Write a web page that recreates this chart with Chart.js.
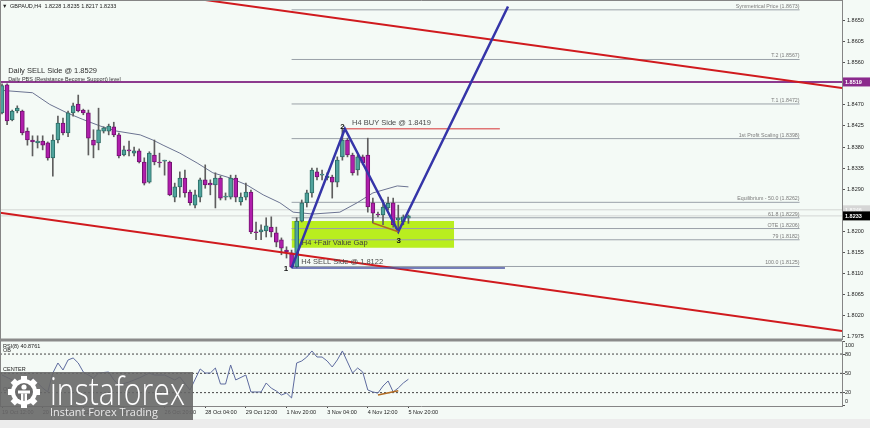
<!DOCTYPE html>
<html>
<head>
<meta charset="utf-8">
<script src="https://cdn.jsdelivr.net/npm/chart.js@4.4.0/dist/chart.umd.min.js"></script>
<style>
html, body { margin: 0; padding: 0; background: #f4faf6; }
#wrap { position: relative; width: 870px; height: 428px; overflow: hidden; background: #f4faf6; }
#strip { position: absolute; left: 0; top: 419px; width: 870px; height: 9px; background: #ececec; }
#price-chart { position: absolute; left: 0; top: 0; }
#rsi-chart { position: absolute; left: 0; top: 334px; }
</style>
</head>
<body>
<div id="wrap">
	<div id="strip"></div>
	<canvas id="price-chart" width="870" height="340"></canvas>
	<canvas id="rsi-chart" width="870" height="94"></canvas>
</div>
<script>
// ---- data ----
const symbolName = 'GBPAUD,H4';

const candleOpen = [1.8453, 1.8513, 1.8438, 1.8457, 1.8457, 1.8414, 1.8395, 1.8389, 1.8393, 1.8389,
	1.8357, 1.8395, 1.8431, 1.8410, 1.8453, 1.8472, 1.8459, 1.8453, 1.8395, 1.8389,
	1.8414, 1.8414, 1.8423, 1.8406, 1.8363, 1.8374, 1.8367, 1.8372, 1.8348, 1.8305,
	1.8363, 1.8348, 1.8350, 1.8348, 1.8273, 1.8295, 1.8314, 1.8284, 1.8256, 1.8273,
	1.8310, 1.8303, 1.8299, 1.8314, 1.8273, 1.8273, 1.8314, 1.8263, 1.8273, 1.8284,
	1.8199, 1.8199, 1.8201, 1.8209, 1.8197, 1.8182, 1.8160, 1.8154, 1.8124, 1.8222,
	1.8261, 1.8282, 1.8327, 1.8320, 1.8314, 1.8316, 1.8305, 1.8359, 1.8395, 1.8363,
	1.8331, 1.8359, 1.8363, 1.8261, 1.8237, 1.8235, 1.8250, 1.8261, 1.8224, 1.8220,
	1.8228];
const candleHigh = [1.8515, 1.8515, 1.8459, 1.8468, 1.8459, 1.8421, 1.8404, 1.8404, 1.8404, 1.8391,
	1.8406, 1.8446, 1.8442, 1.8457, 1.8474, 1.8491, 1.8461, 1.8459, 1.8417, 1.8463,
	1.8423, 1.8429, 1.8433, 1.8410, 1.8382, 1.8393, 1.8380, 1.8376, 1.8357, 1.8370,
	1.8395, 1.8367, 1.8352, 1.8350, 1.8303, 1.8327, 1.8331, 1.8288, 1.8288, 1.8314,
	1.8342, 1.8310, 1.8325, 1.8318, 1.8282, 1.8320, 1.8320, 1.8282, 1.8303, 1.8288,
	1.8220, 1.8214, 1.8229, 1.8231, 1.8209, 1.8186, 1.8167, 1.8160, 1.8229, 1.8267,
	1.8288, 1.8335, 1.8335, 1.8331, 1.8325, 1.8320, 1.8359, 1.8419, 1.8399, 1.8367,
	1.8363, 1.8363, 1.8399, 1.8271, 1.8241, 1.8267, 1.8273, 1.8271, 1.8256, 1.8235,
	1.8235];
const candleLow = [1.8451, 1.8428, 1.8436, 1.8453, 1.8406, 1.8384, 1.8361, 1.8378, 1.8374, 1.8352,
	1.8318, 1.8389, 1.8406, 1.8402, 1.8446, 1.8455, 1.8449, 1.8363, 1.8357, 1.8374,
	1.8410, 1.8406, 1.8402, 1.8357, 1.8361, 1.8361, 1.8361, 1.8346, 1.8299, 1.8303,
	1.8342, 1.8337, 1.8320, 1.8276, 1.8263, 1.8273, 1.8273, 1.8256, 1.8250, 1.8263,
	1.8292, 1.8278, 1.8250, 1.8267, 1.8267, 1.8269, 1.8263, 1.8256, 1.8267, 1.8195,
	1.8182, 1.8182, 1.8188, 1.8188, 1.8167, 1.8150, 1.8143, 1.8122, 1.8122, 1.8220,
	1.8252, 1.8273, 1.8310, 1.8310, 1.8310, 1.8271, 1.8295, 1.8352, 1.8359, 1.8320,
	1.8320, 1.8342, 1.8241, 1.8218, 1.8231, 1.8214, 1.8246, 1.8209, 1.8199, 1.8214,
	1.8217];
const candleClose = [1.8511, 1.8436, 1.8457, 1.8463, 1.8410, 1.8395, 1.8391, 1.8393, 1.8384, 1.8357,
	1.8395, 1.8431, 1.8410, 1.8453, 1.8468, 1.8457, 1.8453, 1.8399, 1.8384, 1.8417,
	1.8421, 1.8425, 1.8406, 1.8361, 1.8374, 1.8372, 1.8372, 1.8348, 1.8303, 1.8367,
	1.8348, 1.8346, 1.8350, 1.8278, 1.8295, 1.8314, 1.8282, 1.8261, 1.8278, 1.8310,
	1.8299, 1.8299, 1.8314, 1.8271, 1.8275, 1.8314, 1.8273, 1.8273, 1.8284, 1.8199,
	1.8197, 1.8203, 1.8212, 1.8199, 1.8177, 1.8164, 1.8156, 1.8124, 1.8222, 1.8261,
	1.8282, 1.8331, 1.8316, 1.8322, 1.8318, 1.8305, 1.8352, 1.8395, 1.8363, 1.8325,
	1.8359, 1.8346, 1.8252, 1.8239, 1.8235, 1.8252, 1.8260, 1.8214, 1.8229, 1.8231,
	1.8233];

const maIdx = [0, 6, 9.4, 12.8, 15.9, 19.3, 22.6, 27.2, 29.7, 31.7, 35, 38.4, 41.5, 44.9, 48.2, 51.4, 54.7, 57.3, 61.2, 66.5, 69.9, 73, 77.8, 80];
const maVal = [1.8501, 1.8496, 1.8471, 1.8453, 1.8439, 1.8425, 1.8414, 1.8406, 1.8395, 1.8384, 1.8367, 1.8346, 1.8325, 1.8314, 1.8299, 1.8278, 1.8261, 1.8241, 1.8237, 1.8241, 1.8261, 1.8282, 1.8297, 1.8295];

const rsiIdx = [0, 2, 4, 6, 8, 9, 10, 11, 12, 13, 14, 15, 16, 18, 19, 21, 22, 23, 25, 26, 27, 29, 30, 32, 34, 35, 37, 39, 40, 41, 42, 43, 44, 45, 46, 48, 49, 51, 52, 53, 54, 55, 56, 57, 58, 59, 60, 61, 62, 63, 64, 65, 66, 67, 68, 69, 70, 71, 72, 73, 74, 75, 76, 77, 78, 79, 80];
const rsiVal = [47.4, 39.7, 31.9, 42.8, 27.2, 21.0, 50.5, 66.1, 55.2, 70.8, 73.9, 66.1, 52.1, 42.8, 50.5, 52.1, 39.7, 31.9, 36.5, 39.7, 42.8, 50.5, 47.4, 47.4, 39.7, 44.3, 24.1, 56.8, 50.5, 50.5, 58.3, 33.4, 33.4, 63.0, 39.7, 47.4, 21.0, 21.0, 35.0, 27.0, 22.5, 16.3, 19.4, 11.7, 66.1, 69.2, 75.4, 84.8, 75.4, 75.4, 69.2, 59.9, 70.8, 84.8, 67.7, 50.5, 58.3, 52.1, 24.1, 21.0, 19.4, 30.3, 38.1, 21.0, 27.2, 35.0, 40.9];
const rsiCaption = 'RSI(8) 40.8761';
const rsiLevels = [80, 50, 20];
const rsiLevelNames = ['OB', 'CENTER', 'OS'];
const rsiTicks = [0, 20, 50, 80, 100];
const rsiDivIdx = [74, 78];
const rsiDivVal = [16.3, 23.0];

const timeTickIdx = [0, 8, 16, 24, 32, 40, 48, 56, 64, 72, 80];
const timeLabels = ['19 Oct 12:00', '20 Oct 20:00', '22 Oct 04:00', '25 Oct 12:00', '26 Oct 20:00', '28 Oct 04:00', '29 Oct 12:00', '1 Nov 20:00', '3 Nov 04:00', '4 Nov 12:00', '5 Nov 20:00'];
const priceTicks = [1.8650, 1.8605, 1.8560, 1.8470, 1.8425, 1.8380, 1.8335, 1.8290, 1.8200, 1.8155, 1.8110, 1.8065, 1.8020, 1.7975];

const fibLevels = [1.8673, 1.8567, 1.8472, 1.8398, 1.8262, 1.8229, 1.8206, 1.8182, 1.8125];
const fibNames = ['Symmetrical Price (1.8673)', 'T.2 (1.8567)', 'T.1 (1.8472)', '1st Profit Scaling (1.8398)', 'Equilibrium - 50.0 (1.8262)', '61.8 (1.8229)', 'OTE (1.8206)', '79 (1.8182)', '100.0 (1.8125)'];
const fibFrom = 57;
const fibTo = 157;

const dailyLevel = 1.8519;
const askPrice = 1.8246;
const buyLevel = [67.5, 98, 1.8419];
const sellLevel = [57, 99, 1.8122];
const fvgIdx = [57, 89];
const fvgPrice = [1.8222, 1.8165];
const upperChannelIdx = [30, 165.35];
const upperChannelVal = [1.8709, 1.8506];
const lowerChannelIdx = [-0.4, 165.35];
const lowerChannelVal = [1.8240, 1.7987];
const swingIdx = [57, 67.5, 78, 99.6];
const swingVal = [1.8122, 1.8419, 1.8199, 1.8680];
const divIdx = [73, 78];
const divVal = [1.8218, 1.8199];

const noteText = ['Daily SELL Side @ 1.8529', 'Daily PBS (Resistance Become Support) level', 'H4 BUY Side @ 1.8419', 'H4 +Fair Value Gap', 'H4 SELL Side @ 1.8122', '1', '2', '3'];
const noteIdx = [1.2, 1.2, 68.9, 59.0, 58.9, 55.9, 67.0, 78.1];
const notePrice = [1.8543, 1.8525, 1.8432, 1.8176, 1.8135, 1.8119, 1.8424, 1.8180];

// ---- view settings ----
const X_MIN = -0.4;
const X_MAX = 165.35;
const PRICE_MIN = 1.7968;
const PRICE_MAX = 1.8694;
const FONT = '"Liberation Sans", Arial, sans-serif';

Chart.defaults.font.family = FONT;
Chart.defaults.animation = false;

const BULL = '#4fa39c';
const BULL_EDGE = '#2c6c66';
const BEAR = '#b01eac';
const BEAR_EDGE = '#741271';
const FRAME = '#858585';

function lineSet(xs, ys, color, width, order, extra = {}) {
	return Object.assign({
		type: 'line',
		data: xs.map((x, i) => ({ x, y: ys[i] })),
		borderColor: color,
		borderWidth: width,
		pointRadius: 0,
		fill: false,
		tension: 0,
		order
	}, extra);
}

const candleIdx = candleOpen.map((_, i) => i);
const isBull = candleIdx.map(i => candleClose[i] >= candleOpen[i]);
const lastBar = candleIdx.length - 1;

const priceDatasets = [
	lineSet(fvgIdx, [fvgPrice[0], fvgPrice[0]], 'rgba(0,0,0,0)', 0, 30, { fill: '+1', backgroundColor: '#b9ee1f' }),
	lineSet(fvgIdx, [fvgPrice[1], fvgPrice[1]], 'rgba(0,0,0,0)', 0, 30),
	lineSet([X_MIN, X_MAX], [askPrice, askPrice], '#d3d6d4', 1, 25),
	lineSet([X_MIN, X_MAX], [candleClose[lastBar], candleClose[lastBar]], '#d3d6d4', 1, 25),
	...fibLevels.map(lvl => lineSet([fibFrom, fibTo], [lvl, lvl], '#9aa1a8', 1, 22)),
	lineSet([X_MIN, X_MAX], [dailyLevel, dailyLevel], '#8c3a8e', 2, 20),
	lineSet(maIdx, maVal, '#6b7391', 1, 12),
	{
		type: 'bar',
		data: candleIdx.map(i => ({ x: i, y: [candleLow[i], candleHigh[i]] })),
		backgroundColor: '#5e5e5e',
		borderWidth: 0,
		barThickness: 1,
		grouped: false,
		order: 10
	},
	{
		type: 'bar',
		data: candleIdx.map(i => ({ x: i, y: [candleOpen[i], candleClose[i]] })),
		backgroundColor: isBull.map(b => b ? BULL : BEAR),
		borderColor: isBull.map(b => b ? BULL_EDGE : BEAR_EDGE),
		borderWidth: 1,
		borderSkipped: false,
		barThickness: 4,
		minBarLength: 1,
		grouped: false,
		order: 9
	},
	lineSet(upperChannelIdx, upperChannelVal, '#d01a1e', 2, 5),
	lineSet(lowerChannelIdx, lowerChannelVal, '#d01a1e', 2, 5),
	lineSet([buyLevel[0], buyLevel[1]], [buyLevel[2], buyLevel[2]], '#e07474', 1.5, 4),
	lineSet([sellLevel[0], sellLevel[1]], [sellLevel[2], sellLevel[2]], '#4b55a3', 1.5, 4),
	lineSet(swingIdx, swingVal, '#3535a8', 2.5, 2),
	lineSet(divIdx, divVal, '#b06a22', 1.5, 1)
];

function drawPriceBox(ctx, yPix, text, bg, fg, left) {
	ctx.fillStyle = bg;
	ctx.fillRect(left + 1, yPix - 4.5, 27, 9);
	ctx.fillStyle = fg;
	ctx.font = 'bold 5.5px ' + FONT;
	ctx.textAlign = 'left';
	ctx.textBaseline = 'middle';
	ctx.fillText(text, left + 3, yPix + 0.5);
}

const priceOverlay = {
	id: 'priceOverlay',
	afterDraw(chart) {
		const { ctx, chartArea: a, scales: { x, y } } = chart;
		ctx.save();

		// panel frame
		ctx.strokeStyle = FRAME;
		ctx.lineWidth = 1;
		ctx.beginPath();
		ctx.moveTo(0.5, a.bottom);
		ctx.lineTo(0.5, 0.5);
		ctx.lineTo(a.right, 0.5);
		ctx.stroke();

		// fib captions
		ctx.font = '5.3px ' + FONT;
		ctx.fillStyle = '#7b7b7b';
		ctx.textAlign = 'right';
		ctx.textBaseline = 'middle';
		fibLevels.forEach((lvl, i) => {
			ctx.fillText(fibNames[i], x.getPixelForValue(fibTo), y.getPixelForValue(lvl) - 3.5);
		});

		// notes on the chart
		const noteFont = ['7.5px ', '5.5px ', '7.5px ', '7.5px ', '7.5px ', 'bold 8px ', 'bold 8px ', 'bold 8px '];
		const noteColor = ['#2f2f2f', '#333', '#4a4a4a', '#3e3e3e', '#4a4a4a', '#111', '#111', '#111'];
		noteText.forEach((txt, i) => {
			ctx.font = noteFont[i] + FONT;
			ctx.fillStyle = noteColor[i];
			ctx.textAlign = txt.length === 1 ? 'center' : 'left';
			ctx.fillText(txt, x.getPixelForValue(noteIdx[i]), y.getPixelForValue(notePrice[i]));
		});

		// symbol header
		const o = candleOpen[lastBar], h = candleHigh[lastBar], l = candleLow[lastBar], c = candleClose[lastBar];
		ctx.font = '5.5px ' + FONT;
		ctx.fillStyle = '#222';
		ctx.textAlign = 'left';
		ctx.fillText('\u25BC', 2, 6);
		ctx.fillText(`${symbolName}  ${o.toFixed(4)} ${h.toFixed(4)} ${l.toFixed(4)} ${c.toFixed(4)}`, 10, 6);

		// price boxes on the axis
		drawPriceBox(ctx, y.getPixelForValue(dailyLevel), dailyLevel.toFixed(4), '#8a2a8c', '#fff', a.right);
		drawPriceBox(ctx, y.getPixelForValue(askPrice), askPrice.toFixed(4), '#d6d6d6', '#f6f6f6', a.right);
		drawPriceBox(ctx, y.getPixelForValue(c), c.toFixed(4), '#000', '#fff', a.right);

		ctx.restore();
	}
};

new Chart(document.querySelector('#price-chart'), {
	type: 'bar',
	data: { datasets: priceDatasets },
	options: {
		responsive: false,
		devicePixelRatio: 1,
		events: [],
		layout: { padding: 0 },
		plugins: { legend: { display: false }, tooltip: { enabled: false } },
		scales: {
			x: { type: 'linear', min: X_MIN, max: X_MAX, offset: false, display: false },
			y: {
				type: 'linear',
				position: 'right',
				min: PRICE_MIN,
				max: PRICE_MAX,
				afterBuildTicks: s => { s.ticks = priceTicks.map(v => ({ value: v })); },
				afterFit: s => { s.width = 28; s.paddingTop = 0; s.paddingBottom = 0; },
				grid: { display: true, drawOnChartArea: false, drawTicks: true, tickLength: 3, color: '#555' },
				border: { display: true, color: FRAME },
				ticks: { padding: 2, font: { size: 5.5 }, color: '#222', callback: v => v.toFixed(4) }
			}
		}
	},
	plugins: [priceOverlay]
});

// ---- RSI window ----
function drawGear(ctx, cx, cy, r) {
	ctx.save();
	ctx.translate(cx, cy);
	ctx.fillStyle = '#ffffff';
	for (let k = 0; k < 8; k++) {
		ctx.save();
		ctx.rotate(k * Math.PI / 4);
		ctx.fillRect(-3, -r - 3, 6, 6);
		ctx.restore();
	}
	ctx.beginPath();
	ctx.arc(0, 0, r, 0, Math.PI * 2);
	ctx.fill();
	ctx.fillStyle = '#6b6b6b';
	ctx.beginPath();
	ctx.arc(0, 0, r - 4, 0, Math.PI * 2);
	ctx.fill();
	ctx.fillStyle = '#ffffff';
	ctx.beginPath();
	ctx.arc(0, -5, 2.6, 0, Math.PI * 2);
	ctx.fill();
	ctx.fillRect(-6, -1.5, 12, 3);
	ctx.fillRect(-3, 1.5, 2.4, 8);
	ctx.fillRect(0.6, 1.5, 2.4, 8);
	ctx.restore();
}

function fitText(ctx, text, weight, family, width) {
	ctx.font = `${weight} 40px ${family}`;
	const size = 40 * width / ctx.measureText(text).width;
	ctx.font = `${weight} ${size}px ${family}`;
}

const rsiOverlay = {
	id: 'rsiOverlay',
	afterDraw(chart) {
		const { ctx, chartArea: a, scales: { y } } = chart;
		ctx.save();

		// separator band and left border
		ctx.fillStyle = '#8a8a8a';
		ctx.fillRect(0, a.top - 2.5, a.right, 3);
		ctx.strokeStyle = FRAME;
		ctx.beginPath();
		ctx.moveTo(0.5, a.top);
		ctx.lineTo(0.5, a.bottom);
		ctx.stroke();

		// caption and level names
		ctx.font = '5.5px ' + FONT;
		ctx.fillStyle = '#222';
		ctx.textAlign = 'left';
		ctx.textBaseline = 'middle';
		ctx.fillText(rsiCaption, 3, a.top + 5);
		rsiLevels.forEach((lvl, i) => {
			ctx.fillText(rsiLevelNames[i], 3, y.getPixelForValue(lvl) - 3.5);
		});

		// axis labels kept inside the window
		rsiTicks.forEach(v => {
			const py = Math.min(Math.max(y.getPixelForValue(v), a.top + 4), a.bottom - 4.5);
			ctx.fillText(String(v), a.right + 3, py);
		});

		// watermark
		ctx.fillStyle = 'rgba(104,104,104,0.9)';
		ctx.fillRect(0, 38, 193, 48);
		drawGear(ctx, 24, 58, 13);
		ctx.fillStyle = '#ffffff';
		ctx.textBaseline = 'alphabetic';
		fitText(ctx, 'instaforex', '300', '"Open Sans", ' + FONT, 135);
		ctx.save();
		ctx.translate(50, 71);
		ctx.scale(1, 1.25);
		ctx.fillText('instaforex', 0, 0);
		ctx.restore();
		ctx.fillStyle = 'rgba(255,255,255,0.85)';
		fitText(ctx, 'Instant Forex Trading', '400', '"Open Sans", ' + FONT, 108);
		ctx.fillText('Instant Forex Trading', 50, 82);

		ctx.restore();
	}
};

new Chart(document.querySelector('#rsi-chart'), {
	type: 'line',
	data: {
		datasets: [
			...rsiLevels.map(lvl => lineSet([X_MIN, X_MAX], [lvl, lvl], '#444', 1, 5, { borderDash: [2, 2] })),
			lineSet(rsiIdx, rsiVal, '#5d6a9e', 1, 2),
			lineSet(rsiDivIdx, rsiDivVal, '#b06a22', 1.5, 1)
		]
	},
	options: {
		responsive: false,
		devicePixelRatio: 1,
		events: [],
		layout: { padding: { top: 7, left: 0, right: 0, bottom: 0 } },
		plugins: { legend: { display: false }, tooltip: { enabled: false } },
		scales: {
			x: {
				type: 'linear',
				min: X_MIN,
				max: X_MAX,
				offset: false,
				afterBuildTicks: s => { s.ticks = timeTickIdx.map(v => ({ value: v })); },
				afterFit: s => { s.height = 22; s.paddingLeft = 0; s.paddingRight = 0; },
				grid: { display: true, drawOnChartArea: false, drawTicks: true, tickLength: 2, color: '#444' },
				border: { display: true, color: FRAME },
				ticks: {
					autoSkip: false,
					maxRotation: 0,
					align: 'start',
					padding: 1,
					font: { size: 5.5 },
					color: '#222',
					callback: (v, i) => timeLabels[i]
				}
			},
			y: {
				type: 'linear',
				position: 'right',
				min: -0.8,
				max: 100.3,
				afterBuildTicks: s => { s.ticks = rsiTicks.map(v => ({ value: v })); },
				afterFit: s => { s.width = 28; s.paddingTop = 0; s.paddingBottom = 0; },
				grid: { display: true, drawOnChartArea: false, drawTicks: true, tickLength: 3, color: '#555' },
				border: { display: true, color: FRAME },
				ticks: { display: false }
			}
		}
	},
	plugins: [rsiOverlay]
});
</script>
</body>
</html>
